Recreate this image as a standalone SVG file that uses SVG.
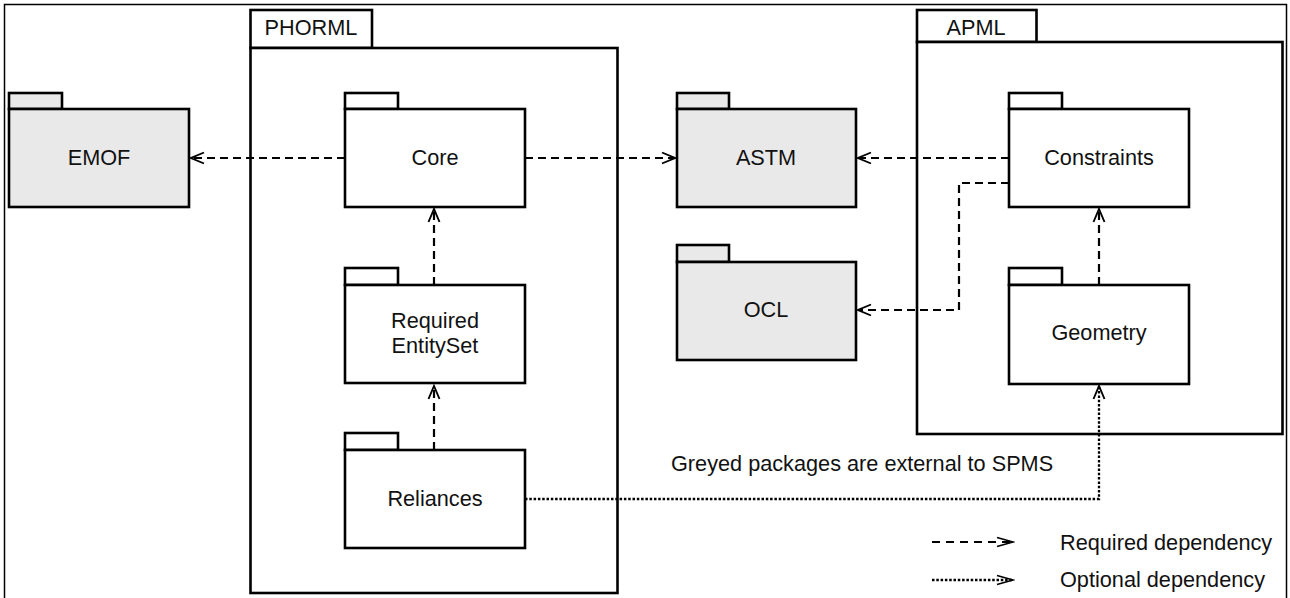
<svg xmlns="http://www.w3.org/2000/svg" width="1290" height="598" viewBox="0 0 1290 598">
<style>
  .frame { fill: none; stroke: #000; stroke-width: 1.5; }
  .pkg { fill: #fff; stroke: #000; stroke-width: 2.6; }
  .ext { fill: #e9e9e9; stroke: #000; stroke-width: 2.6; }
  .lbl { font-family: "Liberation Sans", Arial, sans-serif; font-size: 21.7px; fill: #111; }
  .mid { text-anchor: middle; }
  .req { fill: none; stroke: #000; stroke-width: 2.2; stroke-dasharray: 8 5; }
  .opt { fill: none; stroke: #000; stroke-width: 2.3; stroke-dasharray: 2.5 1.8; }
  .lreq { fill: none; stroke: #000; stroke-width: 2.2; stroke-dasharray: 8 6; }
  .lopt { fill: none; stroke: #000; stroke-width: 2.3; stroke-dasharray: 2.5 1.8; }
</style>
<defs>
  <marker id="arr" markerUnits="userSpaceOnUse" viewBox="-14 -7 16 14" refX="0" refY="0" markerWidth="16" markerHeight="14" orient="auto">
    <path d="M -13 -5.5 L 0 0 L -13 5.5" fill="none" stroke="#000" stroke-width="1.9" stroke-dasharray="none"/>
  </marker>
  <marker id="larr" markerUnits="userSpaceOnUse" viewBox="-18 -7 20 14" refX="0" refY="0" markerWidth="20" markerHeight="14" orient="auto">
    <path d="M -16 -4.5 L 0 0 L -16 4.5" fill="none" stroke="#000" stroke-width="1.7" stroke-dasharray="none"/>
  </marker>
</defs>
<rect width="1290" height="598" fill="#fff"/>
<rect class="frame" x="4.5" y="4.5" width="1282" height="600"/>

<g id="PHORML">
  <rect class="pkg" x="250.5" y="10" width="121.5" height="38"/>
  <rect class="pkg" x="250.5" y="48" width="367" height="545"/>
  <text class="lbl mid" x="311" y="35">PHORML</text>
</g>
<g id="APML">
  <rect class="pkg" x="917" y="10" width="119.5" height="32"/>
  <rect class="pkg" x="917" y="42" width="365.5" height="392"/>
  <text class="lbl mid" x="976" y="35">APML</text>
</g>

<g id="EMOF">
  <rect class="ext" x="9" y="93" width="53" height="16"/>
  <rect class="ext" x="9" y="109" width="180" height="98"/>
  <text class="lbl mid" x="99" y="165">EMOF</text>
</g>
<g id="Core">
  <rect class="pkg" x="345" y="93" width="53" height="16"/>
  <rect class="pkg" x="345" y="109" width="180" height="98"/>
  <text class="lbl mid" x="435" y="165">Core</text>
</g>
<g id="RequiredEntitySet">
  <rect class="pkg" x="345" y="268" width="53" height="17"/>
  <rect class="pkg" x="345" y="285" width="180" height="98"/>
  <text class="lbl mid" x="435" y="328">Required</text>
  <text class="lbl mid" x="435" y="353">EntitySet</text>
</g>
<g id="Reliances">
  <rect class="pkg" x="345" y="433" width="53" height="17"/>
  <rect class="pkg" x="345" y="450" width="180" height="98"/>
  <text class="lbl mid" x="435" y="506">Reliances</text>
</g>
<g id="ASTM">
  <rect class="ext" x="677" y="93" width="52" height="16"/>
  <rect class="ext" x="677" y="109" width="179" height="98"/>
  <text class="lbl mid" x="766" y="165">ASTM</text>
</g>
<g id="OCL">
  <rect class="ext" x="677" y="245" width="52" height="17"/>
  <rect class="ext" x="677" y="262" width="179" height="98"/>
  <text class="lbl mid" x="766" y="317">OCL</text>
</g>
<g id="Constraints">
  <rect class="pkg" x="1009" y="93" width="53" height="16"/>
  <rect class="pkg" x="1009" y="109" width="180" height="98"/>
  <text class="lbl mid" x="1099" y="165">Constraints</text>
</g>
<g id="Geometry">
  <rect class="pkg" x="1009" y="268" width="53" height="17"/>
  <rect class="pkg" x="1009" y="285" width="180" height="99"/>
  <text class="lbl mid" x="1099" y="340">Geometry</text>
</g>

<g id="connectors">
  <path class="req" d="M 345 158 H 191" marker-end="url(#arr)"/>
  <path class="req" d="M 525 158 H 675" marker-end="url(#arr)"/>
  <path class="req" d="M 1009 158 H 858" marker-end="url(#arr)"/>
  <path class="req" d="M 1009 183 H 959 V 310 H 858" marker-end="url(#arr)"/>
  <path class="req" d="M 434 285 V 209" marker-end="url(#arr)"/>
  <path class="req" d="M 1099 285 V 209" marker-end="url(#arr)"/>
  <path class="req" d="M 434 450 V 386" marker-end="url(#arr)"/>
  <path class="opt" d="M 525 499 H 1099 V 386" marker-end="url(#arr)"/>
</g>

<g id="notes">
  <text class="lbl" x="671" y="471">Greyed packages are external to SPMS</text>
</g>

<g id="legend">
  <path class="lreq" d="M 932 542 H 1013" marker-end="url(#larr)"/>
  <path class="lopt" d="M 932 580 H 1013" marker-end="url(#larr)"/>
  <text class="lbl" x="1060" y="550">Required dependency</text>
  <text class="lbl" x="1060" y="587">Optional dependency</text>
</g>
</svg>
